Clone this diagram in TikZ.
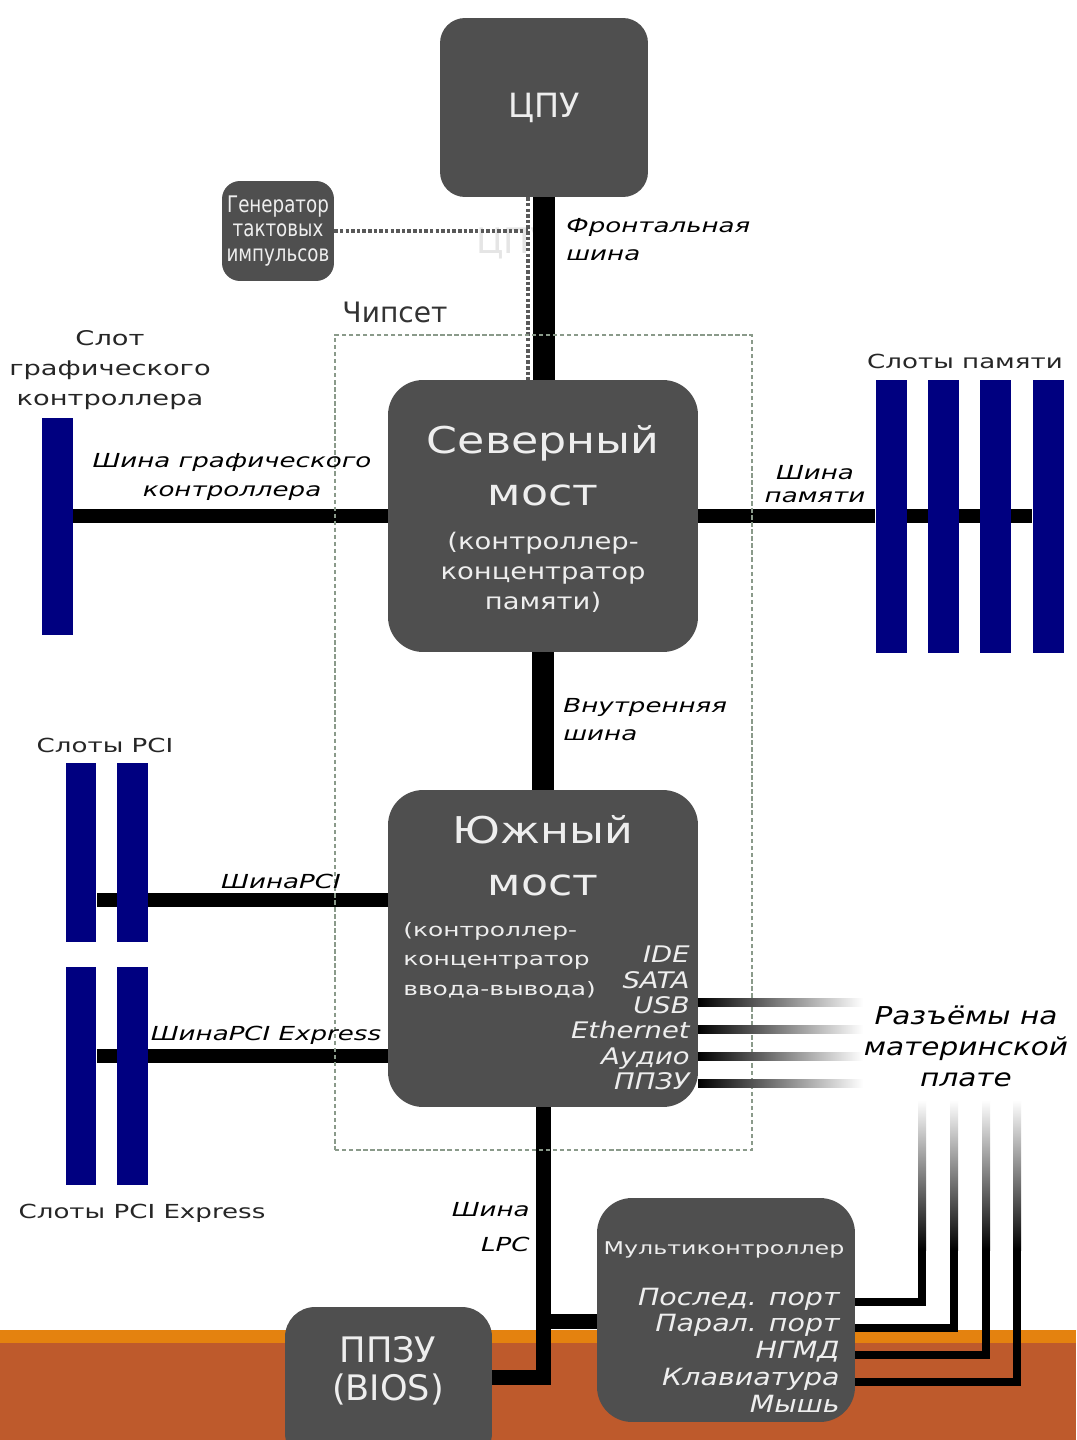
\documentclass[tikz,border=0pt]{standalone}
\usepackage{fontspec}
\setmainfont{DejaVu Sans}
\newfontfamily\wideA[FakeStretch=1.2]{DejaVu Sans}
\newfontfamily\wideB[FakeStretch=1.35]{DejaVu Sans}
\newfontfamily\narrowA[FakeStretch=0.8]{DejaVu Sans}
\newcommand{\fsz}[2]{\fontsize{#1}{#2}\selectfont}
\usepackage{xcolor}
\usetikzlibrary{positioning, calc}
\definecolor{boxgray}{HTML}{4F4F4F}
\definecolor{boxtext}{HTML}{EEEEEE}
\definecolor{slotblue}{HTML}{000080}
\definecolor{chipgreen}{HTML}{8A9A8A}
\definecolor{bandorange}{HTML}{E4820F}
\definecolor{bandrust}{HTML}{BE5A2C}

\begin{document}
\begin{tikzpicture}[x=0.02cm, y=-0.02cm,
        chip/.style={fill=boxgray, rounded corners=#1, inner sep=0pt},
        chip/.default=0.7cm,
        boxtxt/.style={text=boxtext, align=center, inner sep=0pt},
        slot/.style={fill=slotblue, minimum width=0.62cm, inner sep=0pt},
        bus/.style={line width=#1},
        bus/.default=0.28cm,
        lbl/.style={font=\wideB\fsz{11}{16}, text=black!85, align=center, inner sep=0pt},
        busl/.style={font=\wideB\itshape\fsz{11}{16}, align=center, inner sep=0pt},
        clk/.style={black!65, line width=0.065cm, dash pattern=on 2pt off 1.2pt},
        conn/.style={line width=0.16cm}]

    \fill[white] (0,0) rectangle (1076,1440);
    \fill[bandorange] (0,1330) rectangle (1076,1343);
    \fill[bandrust] (0,1343) rectangle (1076,1440);
    \useasboundingbox (0,0) rectangle (1076,1440);

    \node[text=black!10, font=\fsz{20}{20}] (ghost) at (514,243) {ЦПУ};

    \node[chip=0.5cm, boxtxt, font=\fsz{19}{22}, minimum width=4.16cm, minimum height=3.58cm] (cpu) at (544,107.5) {ЦПУ};
    \node[chip=0.36cm, boxtxt, font=\narrowA\fsz{13}{14}, minimum width=2.24cm, minimum height=2cm] (gen) at (278,231) {Генератор\\тактовых\\импульсов};

    \node[chip, minimum width=6.2cm, minimum height=5.44cm] (nb) at (543,516) {};
    \node[boxtxt, font=\wideA\fsz{21}{29.5}] (nbtitle) at (543,466) {Северный\\мост};
    \node[boxtxt, font=\wideA\fsz{13}{17}] (nbsub) at (543,572) {(контроллер-\\концентратор\\памяти)};

    \node[chip, minimum width=6.2cm, minimum height=6.34cm] (sb) at (543,948.5) {};
    \node[boxtxt, font=\wideA\fsz{21}{29.5}] (sbtitle) at (543,856) {Южный\\мост};
    \node[boxtxt, align=left, anchor=west, font=\wideB\fsz{10.5}{16.7}] (sbsub) at (403,960) {(контроллер-\\концентратор\\ввода-вывода)};
    \node[boxtxt, align=right, anchor=east, font=\wideA\itshape\fsz{13}{14.4}] (sbports) at (690,1018) {IDE\\SATA\\USB\\Ethernet\\Аудио\\ППЗУ};

    \node[chip, minimum width=5.16cm, minimum height=4.48cm] (mc) at (726,1310) {};
    \node[boxtxt, font=\wideB\fsz{10}{12}] (mctitle) at (724,1250) {Мультиконтроллер};
    \node[boxtxt, align=right, anchor=east, font=\wideA\itshape\fsz{13.5}{15.2}] (mcports) at (840,1350) {Послед. порт\\Парал. порт\\НГМД\\Клавиатура\\Мышь};

    \node[chip=0.6cm, minimum width=4.14cm, minimum height=3.12cm] (rom) at (388.5,1385) {};
    \node[boxtxt, font=\fsz{20}{21.5}] (romtxt) at (388,1371) {ППЗУ\\(BIOS)};

    \node[slot, minimum height=4.34cm] (gslot) at (57.5,526.5) {};
    \foreach \i/\x in {1/891, 2/943.5, 3/995.5, 4/1048}
        \node[slot, minimum height=5.46cm] (mem\i) at (\x,516.5) {};
    \node[slot, minimum height=3.58cm] (pci1) at (81,852.5) {};
    \node[slot, minimum height=3.58cm] (pci2) at (132.5,852.5) {};
    \node[slot, minimum height=4.36cm] (pcie1) at (81,1076) {};
    \node[slot, minimum height=4.36cm] (pcie2) at (132.5,1076) {};

    \draw[bus=0.44cm] (cpu.south) -- (cpu.south |- nb.north);
    \draw[bus] (gslot.east |- nb.west) -- (nb.west);
    \draw[bus] (nb.east) -- (mem1.west |- nb.east);
    \foreach \i/\j in {1/2, 2/3, 3/4}
        \draw[bus] (mem\i.east |- nb.east) -- (mem\j.west |- nb.east);
    \draw[bus=0.44cm] (nb.south) -- (sb.north);

    \coordinate (sbpci) at (388,900);
    \coordinate (sbpcie) at (388,1056);
    \draw[bus] (sbpci) -- (pci2.east |- sbpci);
    \draw[bus] (pci1.east |- sbpci) -- (pci2.west |- sbpci);
    \draw[bus] (sbpcie) -- (pcie2.east |- sbpcie);
    \draw[bus] (pcie1.east |- sbpcie) -- (pcie2.west |- sbpcie);

    \coordinate (romlpc) at (492,1377);
    \coordinate (mclpc) at (597,1321);
    \draw[bus=0.3cm] (sb.south) |- (romlpc);
    \draw[bus=0.3cm] (sb.south |- mclpc) -- (mclpc);

    \coordinate (clkx) at (528,0);
    \draw[clk] (gen.east) -- (gen.east -| clkx);
    \draw[clk] (clkx |- cpu.south) -- (clkx |- nb.north);

    \node[draw=chipgreen, line width=0.03cm, dash pattern=on 2.5pt off 1.5pt, minimum width=8.34cm, minimum height=16.3cm, inner sep=0pt] (chipset) at (543.5,742.5) {};

    \foreach \i/\y in {1/1002, 2/1029, 3/1056, 4/1083} {
        \coordinate (sbp\i) at (698,\y);
        \shade[left color=black, middle color=black, right color=white] ($(sbp\i)+(0,-4)$) rectangle ($(sbp\i)+(165,4)$);
    }
    \foreach \i/\y/\x in {1/1302/922, 2/1328/954, 3/1355/986, 4/1382/1017} {
        \coordinate (mcp\i) at (855,\y);
        \coordinate (up\i) at (\x,1250);
        \draw[conn] (mcp\i) -| (up\i);
        \shade[top color=white, bottom color=black] ($(up\i)+(-4,0)$) rectangle ($(up\i)+(4,-150)$);
    }

    \node[busl, align=left, anchor=west] (fsbl) at (566,240) {Фронтальная\\шина};
    \node[font=\fsz{16}{18}, text=black!80] (chipl) at (395,312) {Чипсет};
    \node[lbl, font=\wideB\fsz{11.5}{17}] (gslotl) at (110,370) {Слот\\графического\\контроллера};
    \node[busl] (agpl) at (232,477) {Шина графического\\контроллера};
    \node[busl, font=\wideB\itshape\fsz{11}{13}] (meml) at (815,484) {Шина\\памяти};
    \node[lbl] (memsl) at (965,361) {Слоты памяти};
    \node[busl, align=left, anchor=west] (intl) at (563,720) {Внутренняя\\шина};
    \node[lbl] (pcisl) at (105,745) {Слоты PCI};
    \node[busl] (pcil) at (281,881) {ШинаPCI};
    \node[busl] (pciel) at (266,1035) {ШинаPCI Express};
    \node[lbl] (pciesl) at (142,1213) {Слоты PCI Express};
    \node[busl, align=right, anchor=east, font=\wideB\itshape\fsz{11}{20}] (lpcl) at (530,1227) {Шина\\LPC};
    \node[busl, font=\wideA\itshape\fsz{14}{17.6}] (conl) at (966,1046) {Разъёмы на\\материнской\\плате};
\end{tikzpicture}
\end{document}
